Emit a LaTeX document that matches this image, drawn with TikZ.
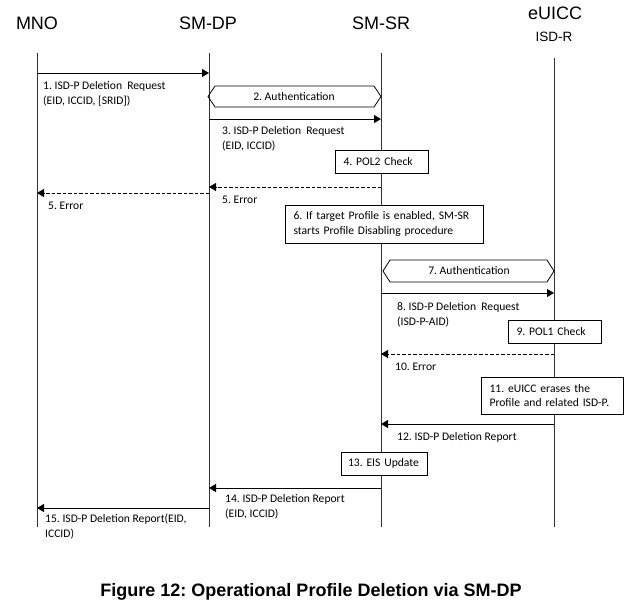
\documentclass[tikz,border=0pt]{standalone}
\usepackage{fontspec}
\setmainfont{Carlito}
\newfontfamily\arialfont{Liberation Sans}
\usetikzlibrary{arrows.meta}
\frenchspacing
\hyphenpenalty=10000

\tikzset{
  life/.style={draw=black!80, line width=0.9pt},
  msg/.style={line width=0.9pt, -{Triangle[length=7pt,width=8pt]}},
  reply/.style={msg, dash pattern=on 3.5pt off 2pt},
  lbl/.style={anchor=base west, align=left, inner sep=0pt, font=\fontsize{11.6}{14.8}\selectfont},
  box/.style={draw, fill=white, line width=0.8pt, align=left, inner xsep=8.5pt, inner ysep=0pt, font=\fontsize{11.6}{14.8}\selectfont},
  actor/.style={font=\arialfont\fontsize{18}{20}\selectfont}
}

\begin{document}
\begin{tikzpicture}[x=1pt,y=-1pt]
\useasboundingbox (0,0) rectangle (642,608);
% actors
\node[actor] (mno) at (37,23) {MNO};
\node[actor] (smdp) at (208,23) {SM-DP};
\node[actor] (smsr) at (381,23) {SM-SR};
\node[actor] (euicc) at (555,13) {eUICC};
\node[font=\arialfont\fontsize{13.5}{15}\selectfont] (isdr) at (554,37) {ISD-R};

\coordinate (mnoT) at (37,53); \coordinate (mnoB) at (37,527);
\coordinate (smdpT) at (209,53); \coordinate (smdpB) at (209,527);
\coordinate (smsrT) at (381,53); \coordinate (smsrB) at (381,527);
\coordinate (isdrT) at (554,58); \coordinate (isdrB) at (554,527);
\draw[life] (mnoT) to (mnoB); \draw[life] (smdpT) to (smdpB);
\draw[life] (smsrT) to (smsrB); \draw[life] (isdrT) to (isdrB);

% MNO -> SM-DP -> SM-SR
\coordinate (m1a) at (37,73); \coordinate (m1b) at (209,73);
\draw[msg] (m1a) to (m1b);
\node[lbl] (l1) at (43,104) {1. ISD-P Deletion\ \ Request\\(EID, ICCID, [SRID])};
\draw[line width=0.8pt] (208,96.5) -- (215,86) -- (374,86) -- (381,96.5) -- (374,107) -- (215,107) -- cycle;
\node[font=\fontsize{11.6}{14.8}\selectfont] (auth2) at (294,96.5) {2. Authentication};
\coordinate (m3a) at (209,119); \coordinate (m3b) at (381,119);
\draw[msg] (m3a) to (m3b);
\node[lbl] (l3) at (222,149.7) {3. ISD-P Deletion\ \ Request\\(EID, ICCID)};
\node[box, text width=76pt, minimum height=23pt] (pol2) at (381.5,161.5) {4. POL2 Check};

\coordinate (m5a) at (381,187); \coordinate (m5b) at (209,187);
\draw[reply] (m5a) to (m5b);
\node[lbl] (l5a) at (222,203) {5. Error};
\coordinate (m5c) at (209,193); \coordinate (m5d) at (37,193);
\draw[reply] (m5c) to (m5d);
\node[lbl] (l5b) at (48,209) {5. Error};
\node[box, text width=181pt, minimum height=38pt] (disable) at (384,224) {6. If target Profile is enabled, SM-SR\\starts Profile Disabling procedure};

% SM-SR <-> eUICC
\draw[line width=0.8pt] (383,271) -- (390,260) -- (547,260) -- (554,271) -- (547,282) -- (390,282) -- cycle;
\node[font=\fontsize{11.6}{14.8}\selectfont] (auth7) at (469,271) {7. Authentication};
\coordinate (m8a) at (381,293); \coordinate (m8b) at (554,293);
\draw[msg] (m8a) to (m8b);
\node[lbl] (l8) at (397,325.4) {8. ISD-P Deletion\ \ Request\\(ISD-P-AID)};
\node[box, text width=76pt, minimum height=23pt] (pol1) at (554.5,331.5) {9. POL1 Check};
\coordinate (m10a) at (554,354); \coordinate (m10b) at (381,354);
\draw[reply] (m10a) to (m10b);
\node[lbl] (l10) at (395,370.7) {10. Error};
\node[box, text width=125pt, minimum height=37pt] (erase) at (552,395.5) {11. eUICC erases the\\Profile and related ISD-P.};
\coordinate (m12a) at (554,424); \coordinate (m12b) at (381,424);
\draw[msg] (m12a) to (m12b);
\node[lbl] (l12) at (397,440.7) {12. ISD-P Deletion Report};
\node[box, text width=72pt, inner xsep=7pt, minimum height=23pt] (eis) at (384,463.5) {13. EIS Update};

% reports back
\coordinate (m14a) at (381,488); \coordinate (m14b) at (209,488);
\draw[msg] (m14a) to (m14b);
\node[lbl] (l14) at (225,517.7) {14. ISD-P Deletion Report\\(EID, ICCID)};
\coordinate (m15a) at (209,508); \coordinate (m15b) at (37,508);
\draw[msg] (m15a) to (m15b);
\node[lbl] (l15) at (45,537.7) {15. ISD-P Deletion Report(EID,\\ICCID)};

\node[font=\arialfont\bfseries\fontsize{18}{20}\selectfont] (caption) at (311,592) {Figure 12: Operational Profile Deletion via SM-DP};
\end{tikzpicture}
\end{document}
